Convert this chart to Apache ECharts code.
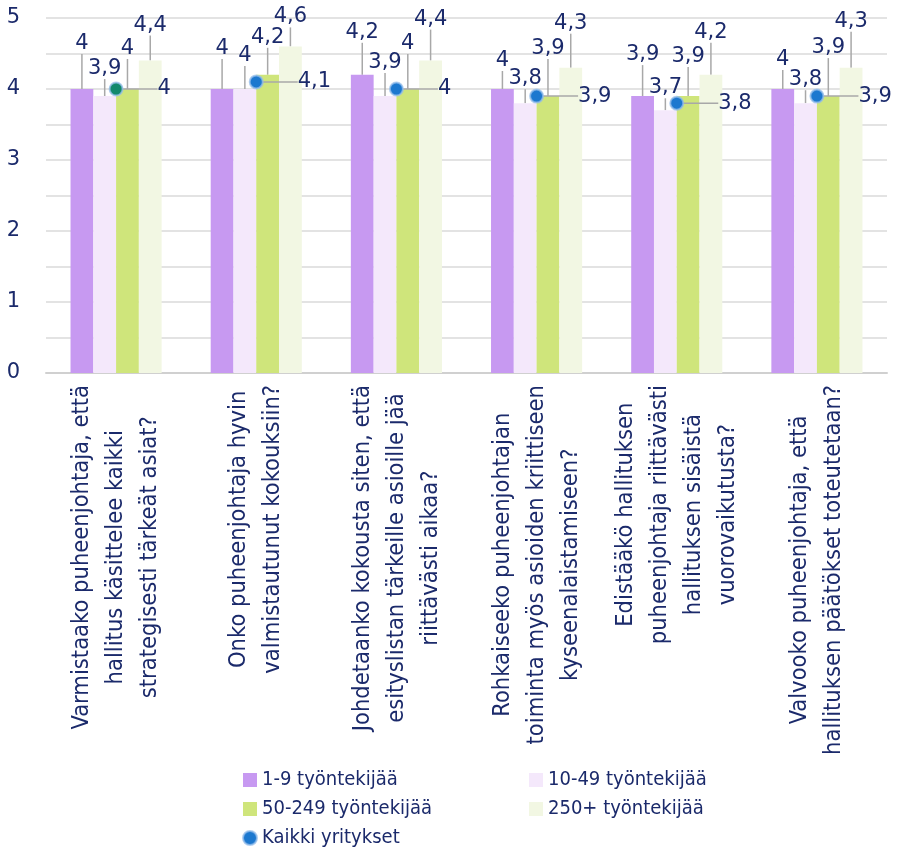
<!DOCTYPE html>
<html>
<head>
<meta charset="utf-8">
<script src="https://cdn.jsdelivr.net/npm/echarts@6/dist/echarts.min.js"></script>
<style>
  html, body { margin: 0; padding: 0; background: #ffffff; }
  #chart { width: 901px; height: 854px; }
</style>
</head>
<body>
<div id="chart"></div>
<script>
// Questions about the chair of the board (category axis, one line per row of text)
const categories = [
  'Varmistaako puheenjohtaja, että\nhallitus käsittelee kaikki\nstrategisesti tärkeät asiat?',
  'Onko puheenjohtaja hyvin\nvalmistautunut kokouksiin?',
  'Johdetaanko kokousta siten, että\nesityslistan tärkeille asioille jää\nriittävästi aikaa?',
  'Rohkaiseeko puheenjohtajan\ntoiminta myös asioiden kriittiseen\nkyseenalaistamiseen?',
  'Edistääkö hallituksen\npuheenjohtaja riittävästi\nhallituksen sisäistä\nvuorovaikutusta?',
  'Valvooko puheenjohtaja, että\nhallituksen päätökset toteutetaan?'
];

// Company size groups
const sizeGroups = ['1-9 työntekijää', '10-49 työntekijää', '50-249 työntekijää', '250+ työntekijää'];
const allName = 'Kaikki yritykset';

// Average scores per size group
const size1to9    = [4.0, 4.0, 4.2, 4.0, 3.9, 4.0];
const size10to49  = [3.9, 4.0, 3.9, 3.8, 3.7, 3.8];
const size50to249 = [4.0, 4.2, 4.0, 3.9, 3.9, 3.9];
const size250plus = [4.4, 4.6, 4.4, 4.3, 4.2, 4.3];
const allCompanies = [4.0, 4.1, 4.0, 3.9, 3.8, 3.9];

// Value axis ticks
const yMin = 0, yMax = 5, yStep = 0.5;

// Styling
const barColors = ['#c799f1', '#f4e8fb', '#cfe57b', '#f2f7e3'];
const dotColor = '#1c78cf';
const firstDotColor = '#12896c';
const ink = '#1b2a6b';
const leader = '#a8a8a8';
const numFont = 'DejaVu Sans, Liberation Sans, sans-serif';
const textFont = 'DejaVu Sans Condensed, Liberation Sans Narrow, Liberation Sans, sans-serif';

// Vertical label lift (px) for each bar label, per size group
const labelLift = [
  [-27, -22, -24, -10, -23, -11],
  [-9, -15, -15, -6, -4, -5],
  [-22, -19, -27, -29, -21, -30],
  [-17, -11, -23, -26, -24, -28]
];

const fmt = v => String(v).replace('.', ',');

const barSeries = [size1to9, size10to49, size50to249, size250plus].map((vals, k) => ({
  name: sizeGroups[k],
  type: 'bar',
  data: vals,
  barGap: '0%',
  barCategoryGap: '35%',
  itemStyle: { color: barColors[k] },
  label: {
    show: true,
    position: 'top',
    distance: 5,
    padding: [0, 0, 3, 0],
    color: ink,
    fontFamily: numFont,
    fontSize: 21,
    formatter: p => fmt(p.value)
  },
  labelLine: { show: true, lineStyle: { color: leader, width: 1.5 } },
  labelLayout: p => ({ dy: labelLift[k][p.dataIndex] }),
  z: 2
}));

const dotSeries = {
  name: allName,
  type: 'scatter',
  data: allCompanies.map((v, i) => i === 0 ? { value: v, itemStyle: { color: firstDotColor } } : v),
  symbol: 'circle',
  symbolSize: 13,
  itemStyle: { color: dotColor, opacity: 1, borderColor: 'rgba(150,190,235,0.75)', borderWidth: 2 },
  label: {
    show: true,
    position: 'right',
    distance: 5,
    padding: [0, 0, 0, 7],
    color: ink,
    opacity: 1,
    fontFamily: numFont,
    fontSize: 21,
    formatter: p => fmt(p.value)
  },
  labelLine: { show: true, lineStyle: { color: leader, width: 1.5, opacity: 1 } },
  labelLayout: { dx: 22 },
  z: 5
};

const legendText = { color: ink, fontFamily: textFont, fontSize: 20, lineHeight: 20 };
const legendBase = {
  orient: 'vertical', top: 770, height: 90, padding: 0, itemGap: 9,
  itemWidth: 14, itemHeight: 14, icon: 'rect', textStyle: legendText
};

const option = {
  animation: false,
  backgroundColor: '#ffffff',
  grid: { left: 46, right: 14, top: 18, bottom: 481, containLabel: false },
  legend: [
    Object.assign({}, legendBase, {
      left: 242,
      data: [sizeGroups[0], sizeGroups[2], { name: allName, icon: 'circle' }]
    }),
    Object.assign({}, legendBase, {
      left: 529,
      data: [sizeGroups[1], sizeGroups[3]]
    })
  ],
  xAxis: {
    type: 'category',
    data: categories,
    axisLine: { show: true, lineStyle: { color: '#d0d0d0', width: 2 } },
    axisTick: { show: false },
    axisLabel: {
      interval: 0,
      rotate: 90,
      margin: 12,
      color: ink,
      formatter: v => v.split('\n').map(s => '{c|' + s + '}').join('\n'),
      rich: {
        c: { align: 'center', fontFamily: textFont, fontSize: 23.5, lineHeight: 34, color: ink }
      }
    }
  },
  yAxis: {
    type: 'value',
    min: yMin, max: yMax, interval: yStep,
    axisLine: { show: false },
    axisTick: { show: false },
    splitLine: { show: true, lineStyle: { color: '#dadada', width: 1.5 } },
    axisLabel: {
      margin: 26,
      color: ink,
      fontFamily: numFont,
      fontSize: 21,
      formatter: v => Number.isInteger(v) ? String(v) : ''
    }
  },
  series: [...barSeries, dotSeries]
};

const chart = echarts.init(document.getElementById('chart'), null, { renderer: 'canvas' });
chart.setOption(option);
</script>
</body>
</html>
